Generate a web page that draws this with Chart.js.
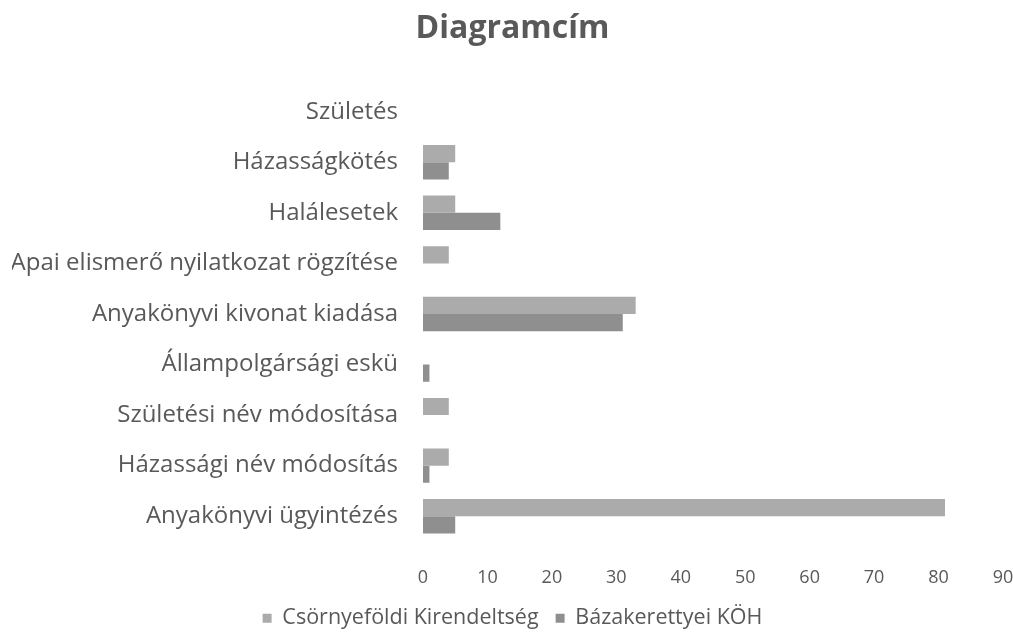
<!DOCTYPE html>
<html>
<head>
<meta charset="utf-8">
<script src="https://cdn.jsdelivr.net/npm/chart.js@4/dist/chart.umd.min.js"></script>
<style>
  html, body { margin: 0; padding: 0; background: #fff; overflow: hidden; }
  #wrap { width: 1013px; height: 632px; }
</style>
</head>
<body>
<div id="wrap"><canvas id="chart"></canvas></div>
<script>
var categories = [
    'Születés',
    'Házasságkötés',
    'Halálesetek',
    'Apai elismerő nyilatkozat rögzítése',
    'Anyakönyvi kivonat kiadása',
    'Állampolgársági eskü',
    'Születési név módosítása',
    'Házassági név módosítás',
    'Anyakönyvi ügyintézés'
];

var csornyefoldi = [0, 5, 5, 4, 33, 0, 4, 4, 81];
var bazakerettye = [0, 4, 12, 0, 31, 1, 0, 1, 5];

var seriesNames = ['Csörnyeföldi Kirendeltség', 'Bázakerettyei KÖH'];
var xTicks = [0, 10, 20, 30, 40, 50, 60, 70, 80, 90];

var textColor = '#595959';
var fontName = '"Open Sans", "Noto Sans", sans-serif';

var ctx = document.getElementById('chart').getContext('2d');
var chart = new Chart(ctx, {
    type: 'bar',
    data: {
        labels: categories,
        datasets: [
            {
                label: seriesNames[0],
                data: csornyefoldi,
                backgroundColor: '#ababab',
                categoryPercentage: 0.68,
                barPercentage: 1.0
            },
            {
                label: seriesNames[1],
                data: bazakerettye,
                backgroundColor: '#8f8f8f',
                categoryPercentage: 0.68,
                barPercentage: 1.0
            }
        ]
    },
    options: {
        indexAxis: 'y',
        responsive: true,
        maintainAspectRatio: false,
        animation: false,
        layout: {
            padding: { left: 12, right: 0, top: 0, bottom: -7 }
        },
        plugins: {
            title: {
                display: true,
                text: 'Diagramcím',
                color: textColor,
                font: { family: fontName, size: 32, weight: 'bold' },
                padding: { top: 10, bottom: 38 }
            },
            legend: {
                position: 'bottom',
                labels: {
                    color: textColor,
                    font: { family: fontName, size: 21.5 },
                    boxWidth: 9,
                    boxHeight: 9,
                    padding: 17
                }
            },
            tooltip: { enabled: false }
        },
        scales: {
            x: {
                min: 0,
                max: 90,
                afterBuildTicks: function (axis) {
                    axis.ticks = xTicks.map(function (v) { return { value: v }; });
                },
                // the tick padding is also added to the side padding; undo that
                afterFit: function (axis) {
                    axis.height = 49;
                    axis.paddingRight = 10;
                },
                grid: { display: false, drawTicks: false },
                border: { display: false },
                ticks: {
                    color: textColor,
                    font: { family: fontName, size: 18 },
                    padding: 26
                }
            },
            y: {
                afterFit: function (axis) {
                    axis.width = 411;
                },
                grid: { display: false, drawTicks: false },
                border: { display: false },
                ticks: {
                    color: textColor,
                    font: { family: fontName, size: 24 },
                    padding: 25
                }
            }
        }
    }
});
</script>
</body>
</html>
